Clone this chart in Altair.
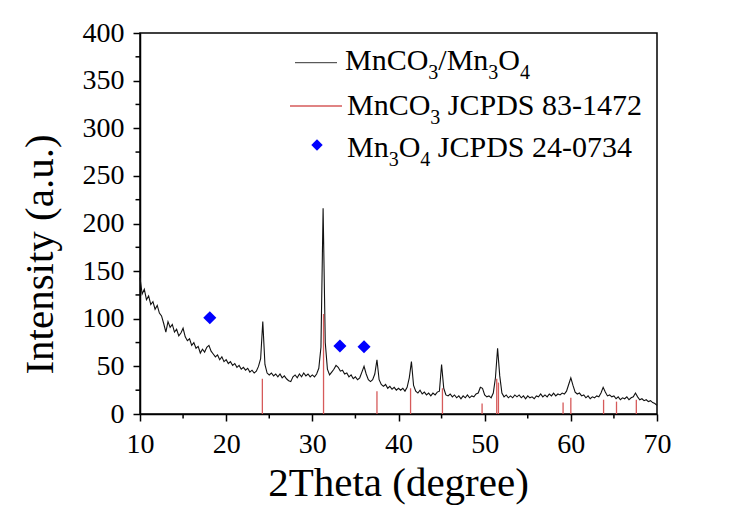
import altair as alt
import pandas as pd

# ---------------- data ----------------
theta_start = 10.0
theta_step = 0.25
# measured pattern, one row per degree (x.00, x.25, x.50, x.75), 10..69, then 70.00
intensity_rows = [
    [143, 126, 131, 120],  # 10
    [124, 115, 118, 110],  # 11
    [114, 106, 103, 95],   # 12
    [86, 97, 91, 94],      # 13
    [86, 89, 82, 85],      # 14
    [90, 81, 77, 79],      # 15
    [72, 75, 69, 71],      # 16
    [64, 68, 65, 70],      # 17
    [72, 66, 63, 60],      # 18
    [62, 57, 60, 55],      # 19
    [57, 53, 55, 51],      # 20
    [53, 49, 51, 47],      # 21
    [49, 46, 48, 44],      # 22
    [46, 43, 45, 50],      # 23
    [58, 97, 52, 43],      # 24
    [41, 43, 40, 42],      # 25
    [39, 42, 38, 40],      # 26
    [37, 35, 34, 39],      # 27
    [41, 38, 42, 39],      # 28
    [43, 40, 42, 39],      # 29
    [41, 39, 42, 48],      # 30
    [70, 216, 75, 47],     # 31
    [41, 44, 47, 51],      # 32
    [49, 45, 46, 42],      # 33
    [43, 39, 41, 37],      # 34
    [39, 36, 38, 44],      # 35
    [50, 42, 36, 34],      # 36
    [36, 42, 57, 36],      # 37
    [31, 29, 31, 27],      # 38
    [29, 26, 28, 25],      # 39
    [27, 25, 27, 24],      # 40
    [28, 38, 55, 30],      # 41
    [24, 22, 25, 21],      # 42
    [23, 20, 22, 19],      # 43
    [22, 20, 23, 24],      # 44
    [52, 27, 20, 19],      # 45
    [21, 18, 20, 17],      # 46
    [19, 16, 19, 17],      # 47
    [20, 17, 19, 18],      # 48
    [21, 22, 28, 27],      # 49
    [20, 18, 19, 17],      # 50
    [22, 38, 69, 40],      # 51
    [22, 18, 20, 17],      # 52
    [19, 17, 20, 18],      # 53
    [20, 17, 19, 16],      # 54
    [19, 17, 18, 16],      # 55
    [19, 18, 21, 18],      # 56
    [20, 18, 21, 19],      # 57
    [22, 19, 21, 20],      # 58
    [22, 21, 24, 31],      # 59
    [38, 30, 23, 21],      # 60
    [22, 19, 20, 17],      # 61
    [19, 16, 18, 17],      # 62
    [19, 18, 22, 28],      # 63
    [23, 19, 20, 18],      # 64
    [19, 16, 18, 15],      # 65
    [17, 16, 18, 15],      # 66
    [17, 18, 22, 18],      # 67
    [15, 16, 14, 15],      # 68
    [13, 14, 12, 11],      # 69
]
intensity_last = [9]       # 70.00

# MnCO3 JCPDS 83-1472 reference sticks
stick_pos = [24.2, 31.3, 37.5, 41.4, 45.1, 49.7, 51.4, 51.6, 59.1, 60.0, 63.8, 65.3, 67.6]
stick_h = [37, 105, 24, 27, 27, 11, 37, 33, 12, 17, 15, 13, 15]

# Mn3O4 JCPDS 24-0734 markers
diamond_pos = [18.1, 33.2, 36.0]
diamond_y = [101, 71.5, 70.5]

x_major = [10, 20, 30, 40, 50, 60, 70]
x_minor = [15, 25, 35, 45, 55, 65]
y_major = [0, 50, 100, 150, 200, 250, 300, 350, 400]
y_minor = [25, 75, 125, 175, 225, 275, 325, 375]

legend_rows = [
    [("MnCO", 0), ("3", 1), ("/Mn", 0), ("3", 1), ("O", 0), ("4", 1)],
    [("MnCO", 0), ("3", 1), (" JCPDS 83-1472", 0)],
    [("Mn", 0), ("3", 1), ("O", 0), ("4", 1), (" JCPDS 24-0734", 0)],
]

# ---------------- build tables ----------------
flat = [v for row in intensity_rows for v in row] + intensity_last
xrd = pd.DataFrame({
    "theta": [theta_start + i * theta_step for i in range(len(flat))],
    "intensity": flat,
})
sticks = pd.DataFrame({"pos": stick_pos, "h": stick_h, "base": [0] * len(stick_pos)})
diamonds = pd.DataFrame({"pos": diamond_pos, "val": diamond_y})
xminor_df = pd.DataFrame({"v": x_minor})
yminor_df = pd.DataFrame({"v": y_minor})

FONT = "Liberation Serif"
MAIN_FS = 30
SUB_FS = 20
W = {"M": 889, "n": 500, "C": 667, "O": 722, "/": 278, " ": 250, "J": 389,
     "P": 556, "D": 722, "S": 556, "-": 333}


def text_width(s, size):
    return sum(W.get(c, 500) for c in s) / 1000.0 * size


row_start = [205, 207, 207]
row_base = [37, 82, 124]
pieces = []
for r, row in enumerate(legend_rows):
    x = row_start[r]
    for txt, sub in row:
        size = SUB_FS if sub else MAIN_FS
        lead = len(txt) - len(txt.lstrip(" "))
        x += text_width(" " * lead, size)
        shown = txt.lstrip(" ")
        pieces.append({"px": x, "py": row_base[r] + (9 if sub else 0),
                       "t": shown, "fs": size})
        x += text_width(shown, size)
leg_text = pd.DataFrame(pieces)

RED = "#d65a5a"
W_PLOT, H_PLOT = 517, 381

x_axis = alt.Axis(
    values=x_major,
    tickSize=7,
    labelBaseline="alphabetic",
    labelPadding=31,
    labelAlign="center",
    title="2Theta (degree)",
    titleX=258, titleY=81, titleAlign="center", titleBaseline="alphabetic",
    titleFontSize=41,
)
y_axis = alt.Axis(
    values=y_major,
    tickSize=7,
    labelBaseline="middle",
    labelPadding=9,
    title="Intensity (a.u.)",
    titleAngle=270, titleX=-88, titleY=221, titleAlign="center", titleBaseline="alphabetic",
    titleFontSize=41,
)

xs = alt.Scale(domain=[10, 70], nice=False)
ys = alt.Scale(domain=[0, 400], nice=False)

line = alt.Chart(xrd).mark_line(color="#111111", strokeWidth=1.1).encode(
    x=alt.X("theta:Q", scale=xs, axis=x_axis),
    y=alt.Y("intensity:Q", scale=ys, axis=y_axis),
)

rules = alt.Chart(sticks).mark_rule(color=RED, strokeWidth=1.3).encode(
    x=alt.X("pos:Q", scale=xs),
    y=alt.Y("h:Q", scale=ys),
    y2="base:Q",
)

pts = alt.Chart(diamonds).mark_point(shape="diamond", filled=True, color="#0000ff",
                                     size=170, opacity=1).encode(
    x=alt.X("pos:Q", scale=xs),
    y=alt.Y("val:Q", scale=ys),
)

# minor ticks (outside the frame)
xminor = alt.Chart(xminor_df).mark_rule(color="black", strokeWidth=1.5, clip=False).encode(
    x=alt.X("v:Q", scale=xs),
    y=alt.value(H_PLOT), y2=alt.value(H_PLOT + 4.5),
)
yminor = alt.Chart(yminor_df).mark_rule(color="black", strokeWidth=1.5, clip=False).encode(
    y=alt.Y("v:Q", scale=ys),
    x=alt.value(0), x2=alt.value(-4.5),
)

leg_line1 = alt.Chart(xrd.head(1)).mark_rule(color="#333333", strokeWidth=1).encode(
    x=alt.value(155), x2=alt.value(197), y=alt.value(29.7))
leg_line2 = alt.Chart(xrd.head(1)).mark_rule(color=RED, strokeWidth=1.3).encode(
    x=alt.value(150), x2=alt.value(202), y=alt.value(73))
leg_diamond = alt.Chart(xrd.head(1)).mark_point(shape="diamond", filled=True, color="#0000ff",
                                                size=130, opacity=1).encode(
    x=alt.value(177), y=alt.value(112))

leg_txt = alt.Chart(leg_text).mark_text(align="left", baseline="alphabetic", font=FONT,
                                        color="black").encode(
    x=alt.X("px:Q", scale=None, axis=None),
    y=alt.Y("py:Q", scale=None, axis=None),
    text="t:N",
    size=alt.Size("fs:Q", scale=None, legend=None),
)

chart = alt.layer(line, rules, pts, xminor, yminor,
                  leg_line1, leg_line2, leg_diamond, leg_txt).properties(
    width=W_PLOT, height=H_PLOT,
    autosize=alt.AutoSizeParams(type="none"),
    padding={"left": 140, "top": 33, "right": 92, "bottom": 112},
    background="white",
).configure(
    font=FONT,
).configure_view(
    stroke="black", strokeWidth=1.5,
).configure_axis(
    grid=False,
    domainColor="black", domainWidth=1.5,
    tickColor="black", tickWidth=1.5,
    labelFont=FONT, labelFontSize=28, labelColor="black",
    titleFont=FONT, titleFontWeight="normal", titleColor="black",
)

chart.save("out.html", embed_options={"renderer": "svg", "actions": False})
